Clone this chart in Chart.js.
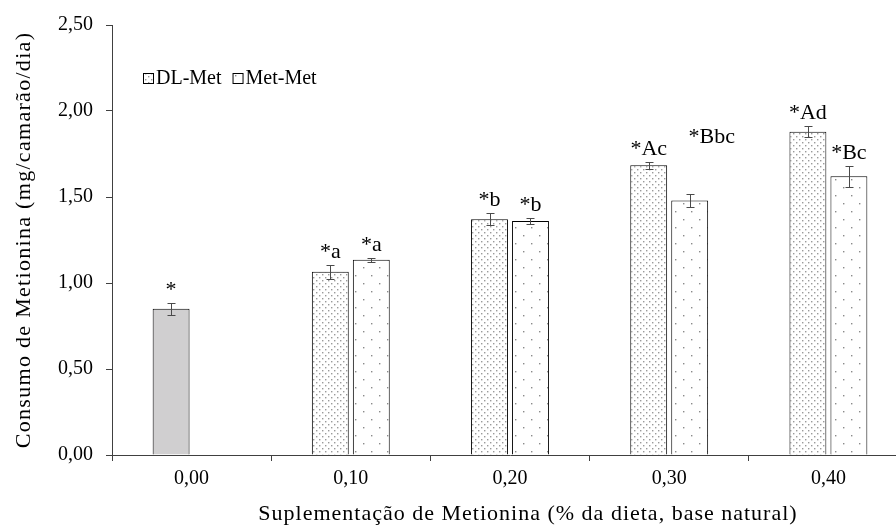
<!DOCTYPE html>
<html>
<head>
<meta charset="utf-8">
<script src="https://cdn.jsdelivr.net/npm/chart.js@4.4.0/dist/chart.umd.min.js"></script>
<style>
  html, body { margin: 0; padding: 0; background: #fff; overflow: hidden; }
  #wrap { width: 912px; height: 527px; position: relative; }
</style>
</head>
<body>
<div id="wrap"><canvas id="chart"></canvas></div>
<script>
const categories = ['0,00', '0,10', '0,20', '0,30', '0,40']
const dlMet = [0.85, 1.065, 1.37, 1.685, 1.88]
const dlMetErr = [0.035, 0.04, 0.035, 0.02, 0.033]
const metMet = [null, 1.135, 1.36, 1.48, 1.62]
const metMetErr = [null, 0.012, 0.018, 0.04, 0.062]
const dlMetLabels = ['*', '*a', '*b', '*Ac', '*Ad']
const metMetLabels = ['', '*a', '*b', '*Bbc', '*Bc']
const xTitle = 'Suplementação de Metionina (% da dieta, base natural)'
const yTitle = 'Consumo de Metionina (mg/camarão/dia)'

const FONT = 'Liberation Serif, Times New Roman, serif'
const AXIS = '#404040'

function makePattern(size, dots, color) {
  const c = document.createElement('canvas')
  c.width = size
  c.height = size
  const g = c.getContext('2d')
  g.fillStyle = '#fff'
  g.fillRect(0, 0, size, size)
  g.fillStyle = color
  dots.forEach(([x, y]) => g.fillRect(x, y, 1.4, 1.4))
  return g.createPattern(c, 'repeat')
}

const densePat = makePattern(6, [[1, 1], [4, 4]], '#9a9a9a')
const sparsePat = makePattern(16, [[3, 3], [11, 11]], '#8a8a8a')
const controlFill = '#d0cfd0'

const errorBars = {
  id: 'errorBars',
  afterDatasetsDraw(chart) {
    const { ctx } = chart
    const y = chart.scales.y
    const errs = [dlMetErr, metMetErr]
    ctx.save()
    ctx.strokeStyle = '#4a4a4a'
    ctx.lineWidth = 1
    errs.forEach((err, di) => {
      const meta = chart.getDatasetMeta(di)
      meta.data.forEach((bar, i) => {
        const v = chart.data.datasets[di].data[i]
        if (v == null || err[i] == null) return
        const x = Math.round(bar.x) + 0.5
        const t = Math.round(y.getPixelForValue(v + err[i])) + 0.5
        const b = Math.round(y.getPixelForValue(v - err[i])) + 0.5
        ctx.beginPath()
        ctx.moveTo(x, t); ctx.lineTo(x, b)
        ctx.moveTo(x - 4, t); ctx.lineTo(x + 4, t)
        ctx.moveTo(x - 4, b); ctx.lineTo(x + 4, b)
        ctx.stroke()
      })
    })
    ctx.restore()
  }
}

const sigLabels = {
  id: 'sigLabels',
  afterDatasetsDraw(chart, args, opts) {
    const { ctx } = chart
    const y = chart.scales.y
    const sets = [[dlMetLabels, dlMetErr], [metMetLabels, metMetErr]]
    ctx.save()
    ctx.font = opts.font
    ctx.fillStyle = '#000'
    ctx.textAlign = 'center'
    ctx.textBaseline = 'alphabetic'
    sets.forEach(([labels, err], di) => {
      const meta = chart.getDatasetMeta(di)
      meta.data.forEach((bar, i) => {
        const v = chart.data.datasets[di].data[i]
        if (v == null || !labels[i]) return
        const shift = (opts.shift[di] && opts.shift[di][i]) || [0, 0]
        const top = y.getPixelForValue(v + err[i])
        ctx.fillText(labels[i], bar.x + shift[0], top - 7 + shift[1])
      })
    })
    ctx.restore()
  }
}

const boxLegend = {
  id: 'boxLegend',
  afterDraw(chart, args, opts) {
    const { ctx, chartArea } = chart
    let x = chartArea.left + opts.x
    const yy = chartArea.top + opts.y
    ctx.save()
    ctx.font = opts.font
    ctx.textBaseline = 'middle'
    chart.data.datasets.forEach((ds) => {
      ctx.fillStyle = ds.legendFill
      ctx.fillRect(x, yy - 5, 10, 10)
      ctx.strokeStyle = '#000'
      ctx.lineWidth = 1
      ctx.strokeRect(x + 0.5, yy - 4.5, 10, 10)
      ctx.fillStyle = '#000'
      ctx.fillText(ds.label, x + 13, yy + 1)
      x += 13 + ctx.measureText(ds.label).width + 11
    })
    ctx.restore()
  }
}

// axis titles drawn by hand so the letter spacing can follow the original
const axisTitles = {
  id: 'axisTitles',
  afterDraw(chart, args, opts) {
    const { ctx, chartArea } = chart
    ctx.save()
    ctx.font = opts.font
    ctx.fillStyle = '#000'
    ctx.textAlign = 'center'
    ctx.textBaseline = 'middle'
    ctx.letterSpacing = opts.xSpacing
    ctx.fillText(xTitle, (chartArea.left + chartArea.right) / 2 + opts.xShift, chart.height - 13)
    ctx.letterSpacing = opts.ySpacing
    ctx.translate(24, (chartArea.top + chartArea.bottom) / 2)
    ctx.rotate(-Math.PI / 2)
    ctx.fillText(yTitle, 0, 0)
    ctx.restore()
  }
}

new Chart(document.getElementById('chart'), {
  type: 'bar',
  data: {
    labels: categories,
    datasets: [
      {
        label: 'DL-Met',
        data: dlMet,
        backgroundColor: dlMet.map((v, i) => (i === 0 ? controlFill : densePat)),
        legendFill: densePat,
        borderColor: '#000',
        borderWidth: 1,
        categoryPercentage: 0.515,
        barPercentage: 0.9
      },
      {
        label: 'Met-Met',
        data: metMet,
        backgroundColor: sparsePat,
        legendFill: sparsePat,
        borderColor: '#000',
        borderWidth: 1,
        categoryPercentage: 0.515,
        barPercentage: 0.9
      }
    ]
  },
  plugins: [errorBars, sigLabels, boxLegend, axisTitles],
  options: {
    animation: false,
    responsive: true,
    maintainAspectRatio: false,
    layout: { padding: { top: 21, right: 4, left: 0, bottom: 0 } },
    plugins: {
      legend: { display: false },
      tooltip: { enabled: false },
      sigLabels: {
        font: '22px ' + FONT,
        shift: [[], [null, null, null, [22, -44], null]]
      },
      boxLegend: { x: 31, y: 53, font: '20px ' + FONT },
      axisTitles: { font: '22px ' + FONT, xSpacing: '1px', ySpacing: '1.3px', xShift: 18 }
    },
    scales: {
      x: {
        grid: { display: true, drawOnChartArea: false, offset: true, tickLength: 6, color: AXIS },
        border: { color: AXIS, width: 1 },
        ticks: { color: '#000', font: { family: FONT, size: 20 }, padding: 6 },
        afterFit(scale) { scale.height = 72 }
      },
      y: {
        min: 0,
        max: 2.5,
        grid: { display: true, drawOnChartArea: false, tickLength: 6, color: AXIS },
        border: { color: AXIS, width: 1 },
        ticks: {
          stepSize: 0.5,
          color: '#000',
          font: { family: FONT, size: 20 },
          padding: 13,
          callback: (v) => v.toFixed(2).replace('.', ',')
        },
        afterFit(scale) { scale.width = 112 }
      }
    }
  }
})
</script>
</body>
</html>
